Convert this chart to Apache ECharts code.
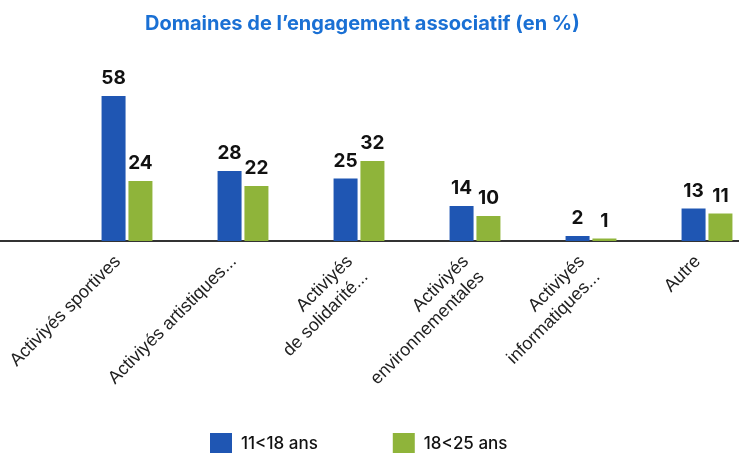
<!DOCTYPE html>
<html>
<head>
<meta charset="utf-8">
<script src="https://cdn.jsdelivr.net/npm/echarts@6/dist/echarts.min.js"></script>
<style>
  html, body { margin: 0; padding: 0; background: #fff; }
  #chart { width: 739px; height: 453px; }
</style>
</head>
<body>
<div id="chart"></div>
<script>
// domaines d'engagement
const categories = [
  'Activiyés sportives',
  'Activiyés artistiques...',
  'Activiyés\nde solidarité...',
  'Activiyés\nenvironnementales',
  'Activiyés\ninformatiques...',
  'Autre'
]
const ages11_18 = [58, 28, 25, 14, 2, 13]
const ages18_25 = [24, 22, 32, 10, 1, 11]

const myChart = echarts.init(document.getElementById('chart'))
const labelStyle = {
  show: true,
  position: 'top',
  distance: 8,
  color: '#111',
  fontFamily: 'Inter',
  fontWeight: 'bold',
  fontSize: 19
}
const option = {
  animation: false,
  title: {
    text: 'Domaines de l\u2019engagement associatif (en %)',
    left: 140,
    top: 9,
    textStyle: {
      color: '#1a70d4',
      fontFamily: 'Inter',
      fontWeight: 'bold',
      fontSize: 20
    }
  },
  legend: {
    bottom: -7,
    left: 205,
    itemWidth: 22,
    itemHeight: 22,
    itemGap: 75,
    icon: 'rect',
    textStyle: {
      color: '#111',
      fontFamily: 'Inter',
      fontWeight: 500,
      fontSize: 17,
      padding: [0, 0, 0, 4]
    }
  },
  grid: {
    top: 91,
    bottom: 212,
    left: 69,
    width: 696,
    outerBoundsMode: 'none'
  },
  xAxis: {
    type: 'category',
    data: categories,
    axisTick: { show: false },
    axisLine: { lineStyle: { color: '#333', width: 2 } },
    axisLabel: {
      rotate: 45,
      interval: 0,
      margin: -7,
      verticalAlign: 'top',
      padding: [0, 24, 0, 0],
      color: '#222',
      fontFamily: 'Liberation Sans',
      fontSize: 18,
      lineHeight: 22
    }
  },
  yAxis: {
    type: 'value',
    min: 0,
    max: 60,
    show: false
  },
  series: [
    {
      name: '11<18 ans',
      type: 'bar',
      barWidth: 24,
      barGap: '12%',
      itemStyle: { color: '#1f56b3' },
      label: labelStyle,
      data: ages11_18
    },
    {
      name: '18<25 ans',
      type: 'bar',
      barWidth: 24,
      itemStyle: { color: '#8fb43a' },
      label: labelStyle,
      data: ages18_25
    }
  ]
}
myChart.setOption(option)
// prolonger la ligne de base jusqu'au bord gauche
const base = myChart.convertToPixel({ gridIndex: 0 }, [0, 0])
const step = myChart.convertToPixel({ xAxisIndex: 0 }, 1) - base[0]
myChart.setOption({
  graphic: [{
    type: 'line',
    shape: { x1: 0, y1: base[1], x2: base[0] - step / 2 + 1, y2: base[1] },
    style: { stroke: '#333', lineWidth: 2 }
  }]
})
</script>
</body>
</html>
